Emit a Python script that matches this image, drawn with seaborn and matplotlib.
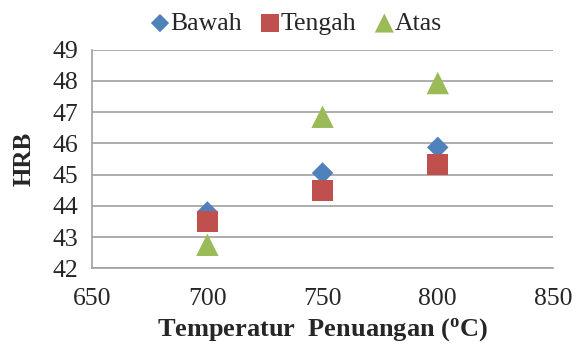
import matplotlib
matplotlib.use("Agg")
import matplotlib.pyplot as plt
import pandas as pd
import seaborn as sns

# data
suhu = [700, 750, 800]
bawah = [43.8, 45.05, 45.87]
tengah = [43.5, 44.5, 45.33]
atas = [42.75, 46.85, 47.93]

series_names = ["Bawah", "Tengah", "Atas"]
colors = ["#4F81BD", "#C0504D", "#9BBB59"]
markers = ["D", "s", "^"]
sizes = [120, 230, 260]

df = pd.DataFrame({"suhu": suhu, "Bawah": bawah, "Tengah": tengah, "Atas": atas})
long = df.melt(id_vars="suhu", var_name="posisi", value_name="hrb")

sns.set_style("white")
plt.rcParams["font.family"] = ["Liberation Serif", "DejaVu Serif"]
plt.rcParams["mathtext.default"] = "regular"

fig = plt.figure(figsize=(5.76, 3.47), dpi=100)
ax = fig.add_axes([0.160, 0.227, 0.800, 0.630])

for name, c, m, s in zip(series_names, colors, markers, sizes):
    sub = long[long["posisi"] == name]
    sns.scatterplot(data=sub, x="suhu", y="hrb", color=c, marker=m, s=s,
                    edgecolor="none", label=name, ax=ax, zorder=3)

ax.set_xlim(650, 850)
ax.set_ylim(42, 49)
ax.set_xticks([650, 700, 750, 800, 850])
ax.set_yticks(range(42, 50))
ax.yaxis.grid(True, color="#A0A0A0", lw=1.2)
ax.xaxis.grid(False)
ax.set_axisbelow(True)

for side in ["top", "right"]:
    ax.spines[side].set_visible(False)
for side in ["left", "bottom"]:
    ax.spines[side].set_color("#A0A0A0")
    ax.spines[side].set_linewidth(1.2)

ax.tick_params(axis="both", labelsize=18.5, length=0)
ax.tick_params(axis="x", pad=14)
ax.tick_params(axis="y", pad=10)
ax.set_xlabel("Temperatur  Penuangan ($^{o}$C)", fontsize=19,
              fontweight="bold", labelpad=5)
ax.set_ylabel("HRB", fontsize=18, fontweight="bold", labelpad=12)

leg = ax.legend(loc="upper center", bbox_to_anchor=(0.425, 1.22), ncol=3,
                frameon=False, fontsize=18.5, handletextpad=-0.6,
                columnspacing=0.1, markerscale=0.85, borderaxespad=0)

fig.savefig("out.png", dpi=100)
